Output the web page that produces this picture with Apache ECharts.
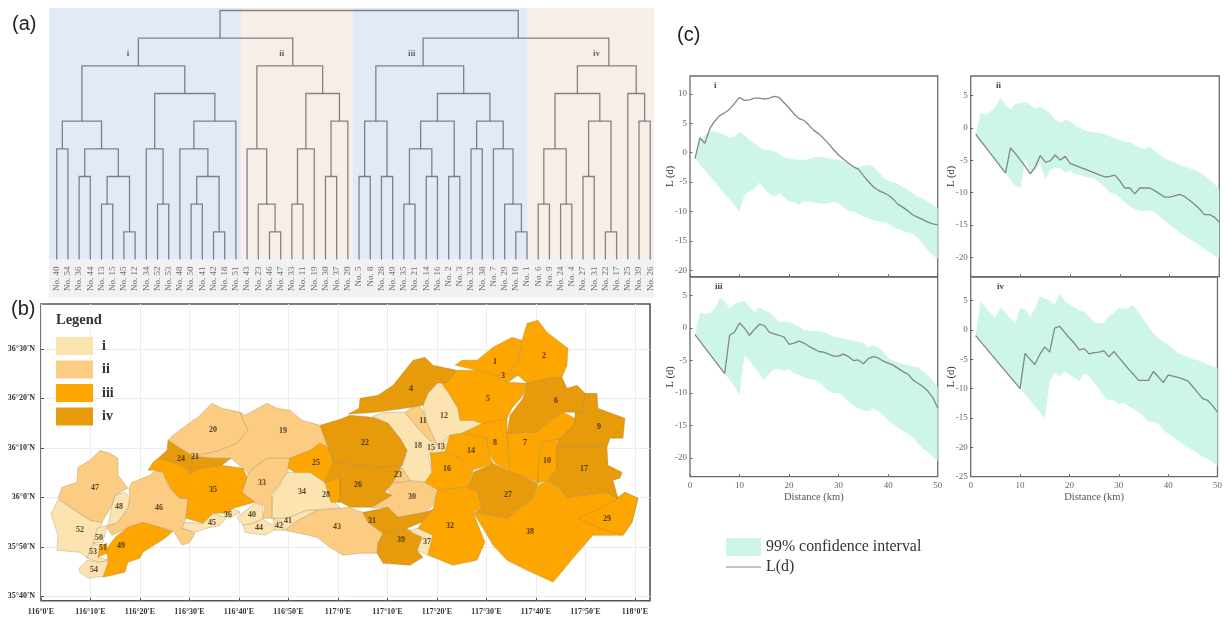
<!DOCTYPE html>
<html>
<head>
<meta charset="utf-8">
<style>html,body{margin:0;padding:0;background:#fff}#c{width:1225px;height:619px}</style>
<script src="https://cdn.jsdelivr.net/npm/echarts@6/dist/echarts.min.js"></script>
</head>
<body>
<div id="c"></div>
<script>
// ---------- (a) dendrogram ----------
const leafIds = [40,54,36,44,13,15,45,12,34,52,53,48,50,41,42,18,51,43,23,46,47,33,11,19,30,37,20,5,8,28,49,35,21,14,16,2,3,32,38,7,29,10,1,6,9,24,4,27,31,22,17,25,39,26];
// node = [mergeLevel, left, right, optional sideways offset in leaves]; a bare number is a leaf id
const clusterI = [7,[5,[4,40,54],[4,[3,36,44],[3,[2,13,15],[1,45,12]]]],[6,[4,34,[2,52,53]],[5,[4,48,[3,[2,50,41],[1,42,18]]],51]],0.45];
const clusterII = [7,[4,43,[2,23,[1,46,47]]],[6,[4,[2,33,11],19],[5,[3,30,37],20]],0.27];
const clusterIII = [7,[5,[3,5,8],[3,28,49]],[6,[5,[4,[2,35,21],[3,14,16]],[3,2,3]],[5,[4,32,38],[4,7,[2,29,[1,10,1]]]]],0.3];
const clusterIV = [7,[6,[4,[2,6,9],[2,24,4]],[5,[3,27,31],[1,22,17]]],[6,25,[5,39,26]],0.18];
const dendroRoot = [9,[8,clusterI,clusterII,0.4],[8,clusterIII,clusterIV,0.2]];
const bandEdges = [-0.69,16.47,26.4,42.0,53.34];
const bandColors = ['#e3eaf7','#f6eee7','#e3eaf7','#f6eee7'];
const clusterNames = ['i','ii','iii','iv'];
const clusterLabelAt = [[6.36,7.45],[20.1,7.45],[31.7,7.45],[48.2,7.45]];

// ---------- (b) map; outlines in map-grid units east / north of 116°E, 36°N (4.95 units = 1 arc-minute) ----------
const unitsPerMinute = 4.95;
const lonTickMinutes = [0,10,20,30,40,50,60,70,80,90,100,110,120];
const latTickMinutes = [-20,-10,0,10,20,30];
const groupColors = ['#fce4b0','#fccc82','#fea600','#e79a0a'];
const groupMembers = [
  [52,50,53,54,48,34,45,36,40,44,41,42,18,12,15,13,37],
  [47,46,20,19,33,43,30,23,11],
  [35,49,51,25,28,1,2,3,5,7,8,10,14,16,32,38,29],
  [24,21,4,22,26,6,9,17,27,31,39]
];
const regionOutlines = {
47:[[17,-1],[21,10],[36,15],[37,30],[49,37],[59,47],[69,44],[77,39],[77,22],[87,9],[74,2],[71,-8],[61,-25],[49,-23],[31,-11]],
52:[[17,-2],[31,-11],[49,-23],[61,-25],[57,-41],[47,-61],[39,-55],[16,-53],[17,-38],[10,-17]],
50:[[56,-31],[66,-28],[62,-45],[52,-46]],
51:[[59,-48],[66,-46],[66,-56],[57,-60]],
53:[[46,-61],[52,-46],[59,-48],[57,-60],[69,-63],[59,-65]],
54:[[38,-71],[46,-63],[59,-65],[69,-63],[66,-73],[62,-79],[47,-81],[39,-75]],
48:[[74,2],[84,5],[89,0],[87,-11],[76,-26],[67,-28],[71,-8]],
46:[[67,-28],[76,-26],[87,-11],[89,0],[88,9],[91,15],[109,22],[114,27],[122,25],[128,9],[139,-1],[147,-1],[145,-21],[141,-31],[154,-36],[149,-45],[141,-48],[132,-33],[102,-26],[86,-31],[71,-38],[66,-31]],
49:[[66,-51],[74,-40],[87,-30],[102,-25],[132,-34],[124,-41],[102,-55],[99,-61],[87,-65],[84,-75],[62,-80],[67,-65],[66,-56]],
24:[[127,57],[139,49],[152,41],[149,24],[141,32],[129,36],[117,39],[126,47]],
21:[[152,41],[172,39],[190,39],[181,32],[159,29],[149,24]],
35:[[107,27],[112,35],[117,39],[129,36],[141,32],[149,24],[159,29],[181,32],[202,29],[206,20],[201,5],[214,-5],[192,-11],[186,-16],[172,-16],[162,-26],[145,-21],[147,-1],[139,-1],[129,9],[122,25],[114,27]],
20:[[127,57],[132,62],[152,77],[157,80],[171,94],[181,89],[199,85],[207,67],[196,54],[176,46],[152,41],[139,49]],
19:[[199,85],[204,82],[226,94],[236,89],[249,87],[261,77],[279,72],[287,52],[269,47],[249,39],[226,39],[216,32],[207,24],[202,29],[190,39],[172,39],[152,41],[176,46],[196,54],[207,67]],
33:[[226,39],[249,39],[246,25],[231,2],[231,-21],[222,-21],[224,-8],[214,-5],[201,5],[206,20],[207,24],[216,32]],
25:[[247,29],[249,39],[269,47],[279,54],[287,50],[292,35],[284,15],[269,25],[254,25]],
34:[[246,25],[269,25],[284,15],[289,-1],[299,-10],[292,-11],[266,-13],[246,-21],[231,-21],[231,-1]],
28:[[284,15],[299,20],[299,-5],[290,-5]],
22:[[279,72],[299,78],[309,82],[332,80],[347,74],[359,59],[366,47],[361,32],[345,30],[315,32],[292,35],[287,50]],
26:[[292,35],[315,32],[345,30],[361,32],[352,15],[344,5],[351,2],[331,-10],[309,-10],[296,-3],[299,-5],[299,20],[284,15]],
4:[[307,83],[318,89],[319,99],[337,102],[352,112],[372,137],[384,140],[392,132],[416,127],[406,115],[396,114],[387,104],[382,92],[364,89],[334,85]],
18:[[332,81],[342,85],[364,85],[377,69],[396,49],[387,42],[391,25],[384,15],[369,17],[361,29],[366,47],[359,59],[347,74]],
11:[[364,85],[376,94],[382,87],[386,74],[396,52],[389,57],[377,69]],
12:[[382,92],[387,104],[396,114],[406,107],[417,89],[419,77],[432,77],[442,74],[421,64],[409,62],[397,52],[386,74]],
15:[[396,52],[401,54],[401,45],[389,44]],
13:[[401,54],[409,62],[404,45],[401,45]],
1:[[414,132],[421,137],[436,137],[452,150],[471,160],[481,157],[477,135],[467,124],[456,122],[436,127]],
2:[[481,157],[486,174],[497,177],[506,165],[527,149],[526,132],[521,120],[506,119],[486,114],[477,122],[467,124],[477,135]],
3:[[456,122],[467,124],[477,122],[467,115],[457,119]],
5:[[399,115],[406,115],[416,127],[436,127],[456,122],[457,119],[467,115],[486,114],[482,102],[471,89],[466,79],[446,72],[432,77],[419,77],[417,89],[406,107]],
6:[[486,114],[506,119],[521,120],[526,109],[536,112],[544,104],[542,84],[534,85],[522,85],[509,77],[496,65],[479,65],[466,64],[469,82],[482,99]],
9:[[544,104],[556,104],[557,89],[584,79],[582,59],[569,59],[566,50],[546,50],[516,50],[519,59],[534,74],[534,85],[542,84]],
17:[[516,50],[566,50],[567,32],[581,25],[579,19],[572,17],[577,-1],[566,5],[526,0],[519,7],[507,17],[516,29]],
7:[[466,64],[479,65],[496,65],[509,77],[522,85],[534,79],[534,69],[521,59],[501,55],[497,29],[497,15],[479,22],[469,25]],
10:[[501,55],[521,59],[516,50],[516,29],[507,17],[497,14],[497,29]],
8:[[442,74],[466,79],[466,64],[469,25],[454,34],[447,45],[446,59],[429,62],[421,64]],
14:[[409,62],[421,64],[429,62],[446,59],[447,45],[452,34],[432,27],[419,39],[404,45]],
16:[[389,44],[401,45],[404,45],[419,39],[432,27],[427,10],[396,7],[384,15],[391,25]],
27:[[432,25],[452,34],[469,25],[479,22],[497,14],[492,-1],[476,-13],[466,-21],[434,-15],[441,-11],[437,5],[427,10],[429,15]],
38:[[497,12],[507,17],[526,0],[566,5],[577,0],[584,5],[597,-1],[591,-25],[582,-38],[552,-38],[532,-61],[512,-85],[486,-73],[466,-63],[452,-48],[442,-31],[432,-15],[466,-21],[492,-1]],
29:[[537,-21],[559,-11],[577,-1],[584,5],[597,-1],[591,-25],[582,-38],[556,-30]],
32:[[396,7],[427,10],[437,5],[441,-11],[432,-15],[444,-45],[436,-63],[412,-68],[387,-58],[392,-38],[377,-31],[381,-25],[392,-12],[396,5]],
30:[[347,12],[361,17],[384,15],[396,5],[392,-8],[384,-15],[357,-20],[347,-10],[331,-11],[349,2]],
23:[[352,25],[361,29],[369,17],[361,15],[352,15]],
43:[[244,-33],[254,-25],[276,-13],[299,-11],[307,-10],[322,-15],[327,-25],[342,-36],[337,-46],[336,-56],[319,-56],[302,-58],[289,-50],[276,-40]],
31:[[322,-15],[347,-10],[357,-20],[384,-15],[392,-12],[381,-25],[366,-31],[342,-36],[327,-25]],
39:[[342,-36],[366,-31],[372,-36],[381,-40],[376,-53],[382,-60],[369,-68],[342,-66],[336,-56],[337,-46]],
37:[[369,-33],[377,-31],[392,-38],[387,-58],[376,-53],[381,-40]],
45:[[139,-28],[146,-25],[162,-26],[172,-16],[186,-20],[179,-28],[166,-31],[154,-35],[141,-31]],
36:[[182,-16],[192,-11],[199,-15],[189,-21]],
40:[[196,-20],[214,-6],[222,-8],[222,-21],[212,-26],[202,-28]],
44:[[202,-28],[212,-26],[222,-22],[232,-28],[236,-31],[224,-38],[204,-35]],
41:[[232,-21],[246,-21],[266,-13],[276,-13],[254,-25],[244,-33],[236,-31]],
42:[[232,-22],[242,-25],[242,-33],[234,-33]]
};
const regionLabelAt = {47:[54,9],52:[39,-33],50:[58,-41],51:[62,-51],53:[52,-55],54:[53,-73],48:[78,-10],46:[118,-11],49:[80,-49],24:[140,38],21:[154,40],35:[172,7],20:[172,67],19:[242,66],33:[221,14],25:[275,34],34:[261,5],28:[285,2],45:[171,-26],36:[187,-18],40:[211,-18],44:[218,-31],41:[247,-24],42:[238,-29],43:[296,-30],1:[454,135],2:[503,141],3:[462,121],4:[370,108],5:[447,98],6:[515,96],7:[484,54],8:[454,54],9:[558,70],10:[506,36],11:[382,76],12:[403,81],14:[430,46],15:[390,49],13:[400,50],16:[406,28],17:[543,28],18:[377,51],22:[324,54],23:[357,22],26:[317,12],27:[467,2],29:[566,-22],30:[371,0],31:[331,-24],32:[409,-29],37:[386,-45],38:[489,-35],39:[360,-43]};

// ---------- (c) L(d) panels; distance = 1..50 km ----------
const distanceKm = [1,2,3,4,5,6,7,8,9,10,11,12,13,14,15,16,17,18,19,20,21,22,23,24,25,26,27,28,29,30,31,32,33,34,35,36,37,38,39,40,41,42,43,44,45,46,47,48,49,50];
const lineI = [-1,2.5,1.6,4.1,5.4,6.3,6.8,7.4,8.4,9.4,8.9,9,9.3,9.3,9.1,9.3,9.6,9.4,8.5,7.6,6.6,5.8,5.5,4.7,3.8,3.2,2.4,1.5,0.5,-0.4,-1.1,-1.8,-2.4,-2.8,-3.9,-4.9,-5.8,-6.4,-6.8,-7.2,-7.9,-8.8,-9.3,-9.9,-10.6,-11,-11.4,-11.8,-12.1,-12.3];
const upperI = [-1,2,3,3.7,3.6,3.4,3,2.5,2.8,3.5,3,2.2,1.6,0.9,0.5,0.5,0.3,-0.2,-0.8,-1,-1.1,-1.2,-1.2,-1.1,-0.8,-0.7,-0.8,-1,-1.1,-1.2,-1.5,-2,-2.5,-2.5,-2.2,-2.1,-2.4,-3.3,-4.2,-4.8,-5,-5.4,-5.9,-6.3,-6.9,-7.5,-7.8,-8.4,-8.9,-9.5];
const lowerI = [-1,-2,-3,-4,-5,-6,-7,-8,-9,-10,-7.2,-6.6,-6.1,-5.1,-6.1,-7,-7.5,-6.9,-7.6,-8.3,-8.4,-8.9,-8.3,-8.3,-8.5,-8.6,-8.7,-8.6,-8.3,-8.6,-9.3,-9.9,-10,-10.4,-10.8,-11.2,-11.5,-11.7,-11.8,-12.1,-12.6,-13,-13.3,-13.6,-13.8,-14.5,-15.5,-16.6,-17.5,-18];
const lineII = [-1,-2,-3,-4,-5,-6,-7,-3.1,-4,-5,-6,-7.1,-6,-4.3,-5.3,-5.1,-4.2,-5,-4.4,-5.5,-5.8,-6.1,-6.4,-6.7,-7,-7.3,-7.6,-7.5,-7.3,-8.2,-9.3,-9.3,-10.2,-9.3,-9.3,-9.3,-9.7,-10.2,-10.7,-10.7,-10.5,-10.3,-10.6,-11.2,-11.8,-12.5,-13.4,-13.4,-13.8,-14.6];
const upperII = [-1,2.3,2,2.5,3.2,4.6,3.5,2.8,3.7,3.8,4,3.5,3,3.2,2.8,2.2,1.3,0.8,1.2,1,0.3,0,-0.4,-0.6,-0.7,-0.8,-1,-1.3,-1.6,-1.9,-2.2,-2.2,-2.7,-3,-3.3,-2.9,-3.6,-4.2,-4.7,-5,-5.4,-5.7,-6,-6.3,-6.4,-6.9,-7.4,-8,-8.7,-9.5];
const lowerII = [-1,-2,-3,-4,-5,-6,-7,-8,-9,-9.3,-4.7,-7.1,-6.5,-5.5,-8,-6.5,-6.2,-6.2,-6.9,-6.6,-7.2,-7.3,-7.6,-7.7,-7.9,-8.5,-9.2,-10,-10.2,-10.8,-11.5,-12.1,-12.6,-12.8,-12.8,-12.8,-13,-13.7,-14.3,-15,-15.5,-16.2,-16.7,-17.2,-17.6,-18.2,-18.7,-19.2,-19.7,-20.2];
const lineIII = [-1,-2,-3,-4,-5,-6,-7,-1.1,-0.6,0.8,0,-1.1,-0.2,0.6,0.4,-0.6,-0.9,-1.1,-1.4,-2.5,-2.3,-2,-2.3,-2.8,-3.2,-3.6,-3.7,-4,-4.3,-4.3,-4,-4.4,-5,-4.9,-5.5,-4.7,-4.4,-4.6,-5.1,-5.4,-5.7,-6.2,-6.7,-7.1,-8,-8.5,-9,-9.7,-10.7,-12.3];
const upperIII = [-1,2.4,2.2,2.3,3,4.7,4.2,3,3.7,4,4.2,3.3,2.5,3.2,2.7,2.4,1.8,1,1,1,0.6,0.2,-0.3,-0.4,-0.4,-0.5,-0.6,-0.9,-1.3,-1.5,-1.6,-1.8,-1.9,-2.1,-2.3,-3,-2.6,-3,-3.6,-4.6,-5,-5.3,-5.5,-5.7,-5.9,-6,-6.7,-7.3,-8,-9];
const lowerIII = [-1,-2,-3,-4,-5,-6,-7,-8,-9,-10.3,-4.2,-5,-6,-7,-8,-7,-6.3,-6.3,-6.6,-6.3,-7,-7.2,-7.6,-7.8,-7.9,-8.3,-9,-9.7,-10,-10,-10.5,-11.3,-12,-12.3,-12.7,-12.8,-12.4,-12.8,-13.4,-14.2,-14.8,-15.3,-15.9,-16.3,-16.8,-17.8,-18.6,-19.1,-19.8,-20.5];
const lineIV = [-1,-2,-3,-4,-5,-6,-7,-8,-9,-10,-4,-5,-5.9,-4.2,-2.9,-3.8,0.3,0.6,-0.4,-1.4,-2.3,-3.4,-3.2,-4.1,-3.9,-3.8,-3.6,-4.6,-3.7,-4.7,-5.7,-6.7,-7.6,-8.6,-8.6,-8.6,-7.1,-8,-9,-7.7,-7.9,-8.1,-8.4,-8.7,-9.7,-10.7,-11.7,-12,-12.9,-14];
const upperIV = [-1,4.8,3.8,2.9,2.1,3.8,3,2,1,3.7,3.5,2.2,3.5,5.7,5.3,5,4.2,6.2,5,4.3,3.8,3.3,3.1,2.3,1.3,1.1,1.2,2.3,2.8,3.7,3.6,3.8,4.2,3,1.7,0.5,-0.5,-1.4,-2,-2.5,-3.2,-4,-4.3,-4.6,-5,-5.2,-5.5,-5.9,-6.3,-6.5];
const lowerIV = [-1,-2,-3,-4,-5,-6,-7,-8,-9,-10,-11,-12,-13,-14,-15,-8.8,-7.3,-8,-7,-7.6,-8.2,-8.8,-7.4,-8,-9,-10,-11.3,-12,-12,-12.6,-12.4,-13,-13.5,-14,-14.7,-15.6,-15.7,-16,-17,-17.7,-18.2,-18.8,-19.5,-20,-20.5,-21,-21.6,-22,-22.5,-23.2];
const panelLines = [lineI,lineII,lineIII,lineIV];
const panelUppers = [upperI,upperII,upperIII,upperIV];
const panelLowers = [lowerI,lowerII,lowerIII,lowerIV];
const panelYExtent = [[-21.1,13.05],[-23,8],[-22.9,7.85],[-25,8.95]];
const panelYTicks = [[-20,-15,-10,-5,0,5,10],[-20,-15,-10,-5,0,5],[-20,-15,-10,-5,0,5],[-25,-20,-15,-10,-5,0,5]];
const distanceTicks = [0,10,20,30,40,50];
const bandName = '99% confidence interval', lineName = 'L(d)';

// ---------- build ----------
const SERIF = '"Liberation Serif","DejaVu Serif",serif';
const grids = [
  {left:49,top:8,width:605,height:251.5},
  {left:41,top:304,width:609,height:296.7,show:true,borderColor:'#555',borderWidth:1.6,backgroundColor:'#fff'},
  {left:690,top:76,width:247.7,height:200.7},
  {left:970.7,top:76,width:248.6,height:200.7},
  {left:690,top:277.2,width:247.7,height:199.5},
  {left:970.7,top:277.2,width:248.6,height:199.5}
].map((g,i)=> i>=2 ? Object.assign(g,{show:true,borderColor:'#6a6a6a',borderWidth:1.3}) : g);

const dendroSegments = [];
(function walk(node){
  if (typeof node === 'number') return {x:leafIds.indexOf(node), y:0};
  const a = walk(node[1]), b = walk(node[2]);
  dendroSegments.push([a.x,a.y,b.x,b.y,node[0]]);
  return {x:(a.x+b.x)/2+(node[3]||0), y:node[0]};
})(dendroRoot);

const xAxes = [
  {gridIndex:0,type:'value',min:bandEdges[0],max:bandEdges[4],splitLine:{show:false},axisLine:{show:false,onZero:false},axisTick:{show:false},
   axisLabel:{customValues:leafIds.map((_,i)=>i),rotate:90,margin:7,fontSize:9,fontFamily:SERIF,color:'#6e6e6e',formatter:v=>'No. '+leafIds[Math.round(v)]}},
  {gridIndex:1,type:'value',min:0,max:609,axisLine:{show:false,onZero:false},
   splitLine:{show:true,lineStyle:{color:'#ececec',width:1}},
   axisTick:{show:true,inside:true,length:3,customValues:lonTickMinutes.map(m=>m*unitsPerMinute),lineStyle:{color:'#555'}},
   axisLabel:{customValues:lonTickMinutes.map(m=>m*unitsPerMinute),margin:7,fontSize:8,fontWeight:'bold',fontFamily:SERIF,color:'#333',
     formatter:v=>{const m=Math.round(v/unitsPerMinute);return (116+Math.floor(m/60))+'°'+(m%60)+"'E";}}}
];
const yAxes = [
  {gridIndex:0,type:'value',min:0,max:9.09,show:false},
  {gridIndex:1,type:'value',min:-103.4,max:193.3,axisLine:{show:false,onZero:false},
   splitLine:{show:true,lineStyle:{color:'#ececec',width:1}},
   axisTick:{show:true,inside:true,length:3,customValues:latTickMinutes.map(m=>m*unitsPerMinute),lineStyle:{color:'#555'}},
   axisLabel:{customValues:latTickMinutes.map(m=>m*unitsPerMinute),margin:6,fontSize:8,fontWeight:'bold',fontFamily:SERIF,color:'#333',
     formatter:v=>{const m=Math.round(v/unitsPerMinute);const t=36*60+m;return Math.floor(t/60)+'°'+(t%60)+"'N";}}}
];
for (let p=0;p<4;p++){
  const bottomRow = p>=2;
  xAxes.push({gridIndex:p+2,type:'value',min:0,max:50,splitLine:{show:false},axisLine:{show:false,onZero:false},z:5,
    axisTick:{show:true,inside:true,length:2.5,customValues:distanceTicks,lineStyle:{color:'#666'}},
    axisLabel:{show:bottomRow,customValues:distanceTicks,margin:4,fontSize:9,fontFamily:SERIF,color:'#666'},
    name:bottomRow?'Distance (km)':'',nameLocation:'middle',nameGap:15,nameTextStyle:{fontSize:10.5,fontFamily:SERIF,color:'#555'}});
  yAxes.push({gridIndex:p+2,type:'value',min:panelYExtent[p][0],max:panelYExtent[p][1],splitLine:{show:false},axisLine:{show:false,onZero:false},z:5,
    axisTick:{show:true,inside:true,length:2.5,customValues:panelYTicks[p],lineStyle:{color:'#666'}},
    axisLabel:{customValues:panelYTicks[p],margin:3,fontSize:9,fontFamily:SERIF,color:'#666'},
    name:'L (d)',nameLocation:'middle',nameGap:14,nameMoveOverlap:false,nameTextStyle:{fontSize:10.5,fontFamily:SERIF,color:'#333'}});
}

const series = [];
series.push({type:'custom',name:'bands',xAxisIndex:0,yAxisIndex:0,silent:true,z:1,
  data:bandColors.map((c,i)=>[bandEdges[i],bandEdges[i+1]]),
  renderItem:(params,api)=>{
    const a=api.coord([api.value(0),9.09]), b=api.coord([api.value(1),0]);
    return {type:'rect',shape:{x:a[0],y:a[1],width:b[0]-a[0],height:b[1]-a[1]},style:{fill:bandColors[params.dataIndex]}};
  }});
series.push({type:'custom',name:'dendrogram',xAxisIndex:0,yAxisIndex:0,silent:true,z:2,data:dendroSegments,
  renderItem:(params,api)=>{
    const xl=api.value(0),yl=api.value(1),xr=api.value(2),yr=api.value(3),h=api.value(4);
    return {type:'polyline',shape:{points:[api.coord([xl,yl]),api.coord([xl,h]),api.coord([xr,h]),api.coord([xr,yr])]},
      style:{fill:null,stroke:'rgba(85,90,100,0.72)',lineWidth:1.3}};
  }});
series.push({type:'scatter',name:'clusterLabels',xAxisIndex:0,yAxisIndex:0,silent:true,z:3,symbolSize:0,
  data:clusterLabelAt.map((p,i)=>({value:p,label:{formatter:clusterNames[i]}})),
  label:{show:true,position:'inside',fontSize:9,fontWeight:'bold',fontFamily:SERIF,color:'#444'}});

groupMembers.forEach((ids,g)=>{
  series.push({type:'custom',name:clusterNames[g],xAxisIndex:1,yAxisIndex:1,silent:true,z:3,
    itemStyle:{color:groupColors[g]},
    data:ids.map(id=>[regionLabelAt[id][0],regionLabelAt[id][1],id]),
    renderItem:(params,api)=>{
      const pts=regionOutlines[api.value(2)].map(p=>api.coord(p));
      return {type:'polygon',shape:{points:pts},style:{fill:groupColors[g],stroke:'rgba(150,125,85,0.45)',lineWidth:0.7}};
    }});
});
series.push({type:'scatter',name:'regionLabels',xAxisIndex:1,yAxisIndex:1,silent:true,z:6,symbolSize:0,
  data:Object.keys(regionLabelAt).map(id=>({value:regionLabelAt[id],label:{formatter:String(id)}})),
  label:{show:true,position:'inside',fontSize:8,fontWeight:'bold',fontFamily:SERIF,color:'#2a2010'}});

panelLines.forEach((line,p)=>{
  const up=panelUppers[p], lo=panelLowers[p];
  series.push({type:'custom',name:bandName,xAxisIndex:p+2,yAxisIndex:p+2,silent:true,z:2,itemStyle:{color:'#cdf6e6'},
    encode:{x:0,y:[1,2]},
    data:distanceKm.map((d,i)=>[d,lo[i],up[i]]),
    renderItem:(params,api)=>{
      if (params.dataIndex!==0) return null;
      const top=distanceKm.map((d,i)=>api.coord([d,up[i]]));
      const bot=distanceKm.map((d,i)=>api.coord([d,lo[i]])).reverse();
      return {type:'polygon',shape:{points:top.concat(bot)},style:{fill:'#cdf6e6'}};
    }});
  series.push({type:'line',name:lineName,xAxisIndex:p+2,yAxisIndex:p+2,silent:true,z:3,symbol:'none',
    lineStyle:{color:'#838786',width:1.3},itemStyle:{color:'#838786'},
    data:distanceKm.map((d,i)=>[d,line[i]])});
});

const tag=(text,left,top)=>({text,left,top,padding:0,textStyle:{fontSize:20,fontWeight:'normal',fontFamily:'"Liberation Sans",sans-serif',color:'#222'}});
const small=(text,left,top)=>({text,left,top,padding:0,textStyle:{fontSize:9,fontWeight:'bold',fontFamily:SERIF,color:'#444'}});

const option={
  animation:false,backgroundColor:'#fff',
  title:[tag('(a)',12,14),tag('(b)',11,299),tag('(c)',677,25),
    {text:'Legend',left:56,top:313,padding:0,textStyle:{fontSize:14.5,fontWeight:'bold',fontFamily:SERIF,color:'#333'}},
    small('i',714,81),small('ii',996,81),small('iii',715,282),small('iv',997,282)],
  grid:grids,xAxis:xAxes,yAxis:yAxes,series,
  legend:[
    {data:clusterNames,orient:'vertical',left:56,top:337,padding:0,itemWidth:37,itemHeight:18,itemGap:5.5,selectedMode:false,icon:'rect',
      textStyle:{fontSize:14,fontWeight:'bold',fontFamily:SERIF,color:'#333',padding:[0,0,0,4]}},
    {data:[{name:bandName,icon:'rect'},{name:lineName,icon:'path://M0,49H100V51.5H0Z'}],orient:'vertical',left:726,top:538,padding:0,itemWidth:35,itemHeight:18,itemGap:3,itemStyle:{borderWidth:0},selectedMode:false,
      textStyle:{fontSize:15.9,fontFamily:SERIF,color:'#333',padding:[0,0,0,0]}}
  ],
  graphic:[{type:'rect',silent:true,z:-1,shape:{x:49,y:259.5,width:605,height:38},style:{fill:'#f1f1f1'}}]
};
echarts.init(document.getElementById('c')).setOption(option);
</script>
</body>
</html>
